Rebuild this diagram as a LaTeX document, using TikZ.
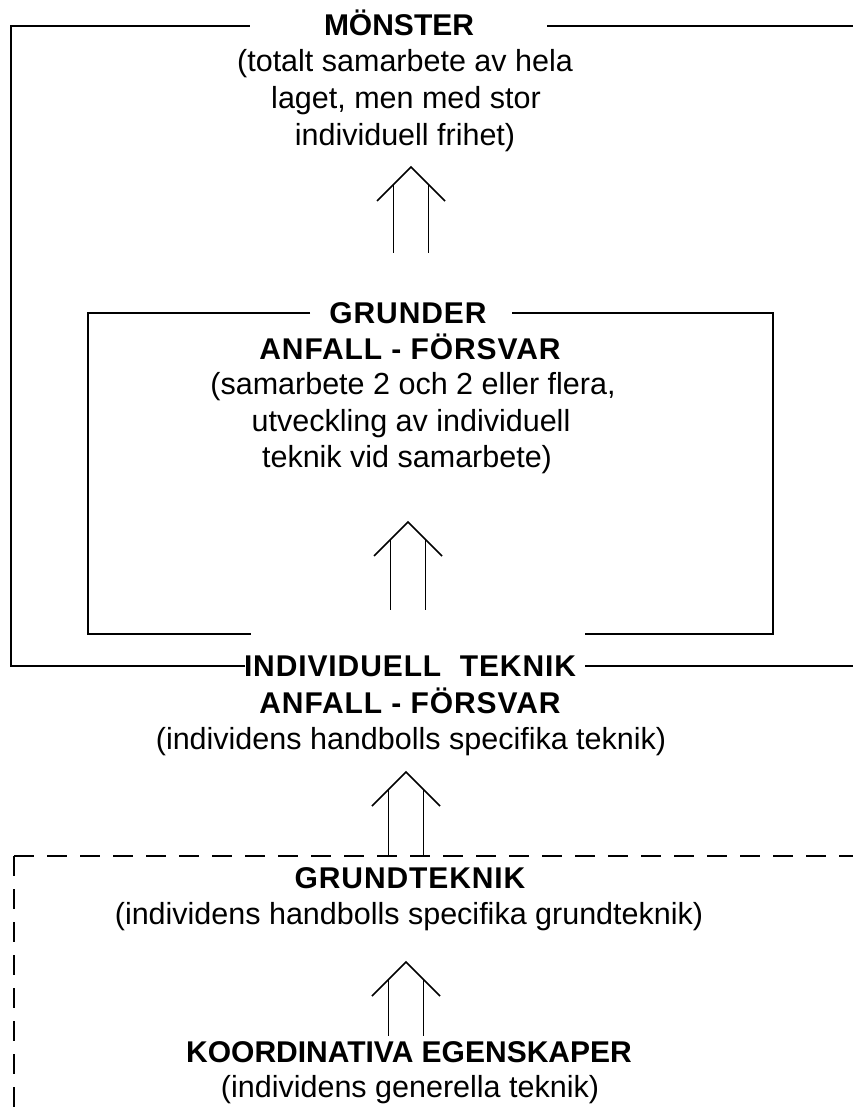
\documentclass[tikz,border=0pt]{standalone}
\usepackage{fontspec}
\setmainfont{Liberation Sans}
\newcommand\dupArrow[3]{% center x, apex y, bottom y
  \draw[arrowline] ({#1-34},{#2+34}) -- (#1,#2) -- ({#1+34},{#2+34});
  \draw[arrowline] ({#1-17.5},{#2+17.5}) -- ({#1-17.5},#3);
  \draw[arrowline] ({#1+17.5},{#2+17.5}) -- ({#1+17.5},#3);
}
\tikzset{
  frame/.style={line width=2pt, line join=miter},
  dframe/.style={line width=2pt, dash pattern=on 20pt off 13pt},
  arrowline/.style={line width=1.7pt, line join=miter},
  reg/.style={anchor=base, inner sep=0pt, font=\fontsize{30.5}{37}\selectfont},
  hd/.style={anchor=base, inner sep=0pt, font=\fontsize{30}{35}\selectfont\bfseries},
  hdw/.style={hd, font=\fontsize{30}{35}\selectfont\bfseries\addfontfeatures{LetterSpace=3}},
}
\begin{document}
\begin{tikzpicture}[x=1pt,y=-1pt]
\useasboundingbox (0,0) rectangle (853,1118);
% outer frame
\draw[frame] (245,666) -- (11,666) -- (11,26) -- (250,26);
\draw[frame] (547,26) -- (853,26);
\draw[frame] (585,666) -- (853,666);
% inner frame
\draw[frame] (310,313) -- (88,313) -- (88,634) -- (251,634);
\draw[frame] (512,313) -- (773,313) -- (773,634) -- (585,634);
% dashed frame
\coordinate (dc) at (14,856);
\draw[dframe] (dc) -- (853,856);
\draw[dframe] (dc) -- (14,1118);
% texts
\node[hd]  (m0) at (399,36) {MÖNSTER};
\node[reg] (m1) at (405,72) {(totalt samarbete av hela};
\node[reg] (m2) at (406,109) {laget, men med stor};
\node[reg] (m3) at (405,146) {individuell frihet)};
\node[hdw] (g0) at (408,323) {GRUNDER};
\node[hdw] (g1) at (410,359) {ANFALL - FÖRSVAR};
\node[reg] (g2) at (413,394) {(samarbete 2 och 2 eller flera,};
\node[reg] (g3) at (411,431) {utveckling av individuell};
\node[reg] (g4) at (407,467) {teknik vid samarbete)};
\node[hdw] (i0) at (410,676) {INDIVIDUELL\ \ TEKNIK};
\node[hdw] (i1) at (410,713) {ANFALL - FÖRSVAR};
\node[reg] (i2) at (411,749) {(individens handbolls specifika teknik)};
\node[hdw] (t0) at (410,888) {GRUNDTEKNIK};
\node[reg] (t1) at (409,924) {(individens handbolls specifika grundteknik)};
\node[hd]  (k0) at (409,1062) {KOORDINATIVA EGENSKAPER};
\node[reg] (k1) at (410,1097) {(individens generella teknik)};
% double arrows
\dupArrow{411}{167}{253}
\dupArrow{408}{522}{610}
\dupArrow{406}{772}{856}
\dupArrow{406}{962}{1036}
\end{tikzpicture}
\end{document}
